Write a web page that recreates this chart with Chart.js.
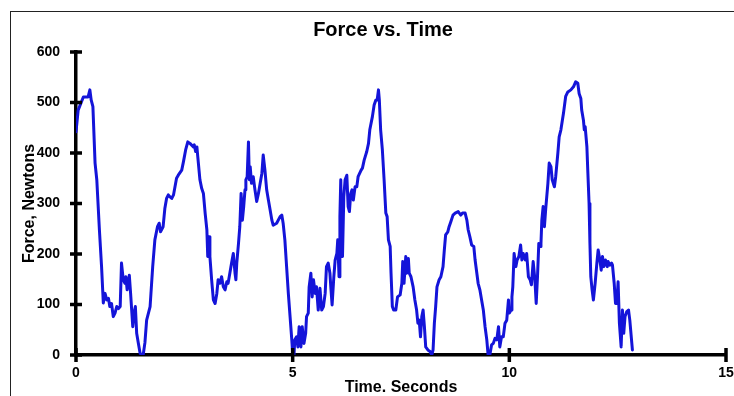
<!DOCTYPE html>
<html><head><meta charset="utf-8">
<script src="https://cdn.jsdelivr.net/npm/chart.js@4.4.0/dist/chart.umd.min.js"></script>
<style>
html,body{margin:0;padding:0;background:#fff;overflow:hidden;width:734px;height:396px;}
#frame{position:absolute;left:10px;top:11px;width:900px;height:600px;border:1.5px solid #222;}
#wrap{position:absolute;left:0;top:0;width:734px;height:396px;}
</style></head><body>
<div id="frame"></div>
<div id="wrap"><canvas id="c" width="734" height="396"></canvas></div>
<script>
const chartTitle = 'Force vs. Time';
const xAxisTitle = 'Time. Seconds';
const yAxisTitle = 'Force, Newtons';
const xTicks = [0, 5, 10, 15];
const yTicks = [0, 100, 200, 300, 400, 500, 600];

const timeSeconds = [
 0.00,0.05,0.17,0.28,0.32,0.35,0.39,0.44,0.48,0.54,
 0.59,0.63,0.67,0.71,0.75,0.78,0.82,0.86,0.90,0.94,
 0.98,1.02,1.05,1.09,1.13,1.15,1.18,1.23,1.26,1.31,
 1.34,1.37,1.40,1.44,1.48,1.55,1.59,1.63,1.71,1.77,
 1.82,1.88,1.92,1.95,2.01,2.05,2.09,2.13,2.17,2.21,
 2.25,2.32,2.36,2.44,2.48,2.53,2.58,2.63,2.71,2.73,
 2.76,2.79,2.81,2.86,2.90,2.94,2.98,3.02,3.04,3.07,
 3.09,3.13,3.17,3.21,3.25,3.28,3.32,3.36,3.40,3.44,
 3.48,3.51,3.55,3.59,3.63,3.67,3.69,3.71,3.75,3.78,
 3.81,3.84,3.87,3.90,3.92,3.95,3.98,4.00,4.02,4.05,
 4.09,4.13,4.17,4.21,4.25,4.29,4.32,4.36,4.40,4.44,
 4.48,4.52,4.55,4.63,4.71,4.75,4.78,4.82,4.86,4.90,
 4.94,4.98,5.00,5.03,5.05,5.09,5.12,5.15,5.19,5.22,
 5.26,5.30,5.32,5.36,5.38,5.42,5.45,5.48,5.52,5.55,
 5.59,5.63,5.67,5.71,5.75,5.78,5.82,5.86,5.88,5.91,
 5.95,5.98,6.02,6.04,6.07,6.09,6.11,6.13,6.15,6.18,
 6.21,6.25,6.28,6.31,6.34,6.37,6.40,6.44,6.48,6.51,
 6.58,6.61,6.65,6.71,6.75,6.78,6.84,6.88,6.92,6.95,
 6.98,7.00,7.03,7.07,7.11,7.15,7.18,7.21,7.25,7.27,
 7.30,7.33,7.38,7.42,7.48,7.52,7.54,7.57,7.61,7.63,
 7.67,7.69,7.73,7.78,7.82,7.86,7.89,7.92,7.95,7.98,
 8.01,8.04,8.07,8.12,8.17,8.21,8.24,8.27,8.30,8.33,
 8.38,8.42,8.47,8.50,8.53,8.58,8.61,8.65,8.70,8.75,
 8.82,8.88,8.92,8.98,9.02,9.05,9.09,9.13,9.18,9.21,
 9.25,9.28,9.32,9.36,9.40,9.44,9.48,9.51,9.55,9.59,
 9.63,9.67,9.71,9.75,9.78,9.82,9.86,9.90,9.94,9.98,
 10.00,10.04,10.06,10.08,10.11,10.15,10.18,10.22,10.26,10.29,
 10.32,10.37,10.40,10.44,10.48,10.51,10.55,10.59,10.62,10.65,
 10.68,10.71,10.73,10.75,10.78,10.81,10.84,10.89,10.92,10.96,
 10.99,11.04,11.07,11.12,11.15,11.19,11.25,11.30,11.35,11.42,
 11.48,11.53,11.58,11.61,11.65,11.67,11.71,11.73,11.75,11.79,
 11.81,11.84,11.86,11.88,11.91,11.94,11.98,12.02,12.05,12.09,
 12.12,12.15,12.18,12.22,12.26,12.28,12.32,12.36,12.38,12.42,
 12.45,12.48,12.51,12.54,12.58,12.61,12.64,12.67,12.71,12.75,
 12.78,12.84
];

const forceNewtons = [
 442,485,511,511,525,505,492,380,347,248,
 175,103,122,109,112,96,102,76,83,96,
 92,96,182,149,142,155,129,158,122,56,
 83,96,43,23,3,0,24,69,96,175,
 228,254,261,244,254,290,310,317,313,310,
 317,350,356,366,383,406,422,419,412,416,
 403,412,393,347,330,320,281,248,195,234,
 195,149,109,102,122,149,142,155,135,129,
 145,142,162,182,201,162,149,182,221,254,
 320,267,294,327,347,353,422,347,373,340,
 353,327,304,320,340,360,396,366,327,307,
 287,267,257,261,274,277,261,228,175,122,
 76,30,3,0,30,36,16,56,16,56,
 23,43,76,83,135,162,115,149,122,135,
 89,132,89,96,122,175,182,162,135,99,
 155,188,201,228,155,274,347,254,195,313,
 347,356,294,284,320,327,307,333,333,353,
 366,370,386,403,419,446,472,495,505,505,
 525,505,446,406,347,281,274,228,215,162,
 96,89,89,115,119,142,185,142,195,162,
 191,162,155,135,109,89,63,69,36,76,
 89,56,16,10,7,0,10,63,96,135,
 149,155,175,208,238,244,254,264,277,281,
 284,277,281,281,267,248,234,218,215,188,
 162,142,129,109,89,56,30,0,0,20,
 23,33,30,56,16,36,36,63,69,109,
 83,89,115,135,201,175,188,195,218,188,
 201,188,201,155,149,139,185,149,102,155,
 221,215,221,267,294,254,290,340,380,373,
 347,333,353,400,432,446,479,512,521,525,
 531,541,538,518,508,485,465,446,452,412,
 366,300,221,155,129,109,142,182,208,188,
 168,195,175,188,175,185,178,182,178,142,
 102,102,145,63,16,89,43,76,86,89,
 69,10
];

const FONT = "'Liberation Sans', Arial, Helvetica, sans-serif";

const crossTicks = {
  id: 'crossTicks',
  afterDraw(chart) {
    const ctx = chart.ctx, xs = chart.scales.x, ys = chart.scales.y;
    ctx.save();
    ctx.strokeStyle = '#000';
    ctx.lineWidth = 3.5;
    ctx.beginPath();
    ys.ticks.forEach(t => {
      const p = ys.getPixelForValue(t.value);
      ctx.moveTo(xs.left - 6, p); ctx.lineTo(xs.left + 6, p);
    });
    xs.ticks.forEach(t => {
      const p = xs.getPixelForValue(t.value);
      ctx.moveTo(p, ys.bottom - 7); ctx.lineTo(p, ys.bottom + 7);
    });
    ctx.stroke();
    ctx.restore();
  }
};

const titlePlugin = {
  id: 'plainTitle',
  afterDraw(chart) {
    const ctx = chart.ctx;
    ctx.save();
    ctx.font = "bold 20px " + FONT;
    ctx.fillStyle = '#000';
    ctx.textAlign = 'center';
    ctx.textBaseline = 'alphabetic';
    ctx.fillText(chartTitle, 383, 36);
    ctx.restore();
  }
};

new Chart(document.getElementById('c'), {
  type: 'line',
  data: {
    datasets: [{
      data: timeSeconds.map((t, i) => ({ x: t, y: forceNewtons[i] })),
      borderColor: '#1414d9',
      borderWidth: 3,
      pointRadius: 0,
      tension: 0,
      fill: false,
      borderJoinStyle: 'round',
      borderCapStyle: 'round'
    }]
  },
  options: {
    responsive: false,
    animation: false,
    layout: { padding: { left: 22, right: 8, top: 52, bottom: 0 } },
    plugins: { legend: { display: false }, tooltip: { enabled: false }, title: { display: false } },
    scales: {
      x: {
        type: 'linear', min: 0, max: 15,
        afterBuildTicks: s => { s.ticks = xTicks.map(v => ({ value: v })); },
        afterFit: s => { s.height = 41; s.paddingRight = 0; s.paddingLeft = 0; },
        grid: { display: false },
        border: { display: true, color: '#000', width: 3.5 },
        ticks: { color: '#000', font: { family: FONT, size: 14, weight: 'bold' }, padding: 2, maxRotation: 0 },
        title: { display: true, text: xAxisTitle, color: '#000', padding: 0,
                 font: { family: FONT, size: 16, weight: 'bold', lineHeight: 1 } }
      },
      y: {
        type: 'linear', min: 0, max: 600,
        afterBuildTicks: s => { s.ticks = yTicks.map(v => ({ value: v })); },
        afterFit: s => { s.width = 54; s.paddingTop = 0; s.paddingBottom = 0; },
        grid: { display: false },
        border: { display: true, color: '#000', width: 3.5 },
        ticks: { color: '#000', font: { family: FONT, size: 14, weight: 'bold' }, padding: 8 },
        title: { display: true, text: yAxisTitle, color: '#000', padding: 0,
                 font: { family: FONT, size: 16, weight: 'bold', lineHeight: 1 } }
      }
    }
  },
  plugins: [crossTicks, titlePlugin]
});
</script>
</body></html>
